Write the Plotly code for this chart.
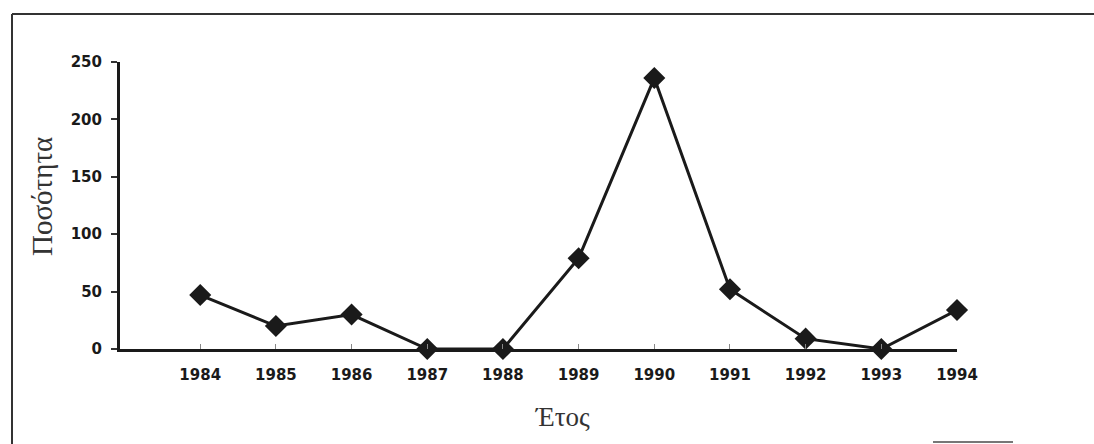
import plotly.graph_objects as go

years = [1984, 1985, 1986, 1987, 1988, 1989, 1990, 1991, 1992, 1993, 1994]
quantity = [47, 20, 30, 0, 0, 79, 236, 52, 9, 0, 34]
y_ticks = [0, 50, 100, 150, 200, 250]
x_title = "Έτος"
y_title = "Ποσότητα"

W, H = 1094, 444
L, R, T, B = 120, 137, 62, 95
pw, ph = W - L - R, H - T - B


def px(x):
    return (x - L) / pw


def py(y):
    return (H - B - y) / ph


fig = go.Figure()
fig.add_trace(go.Scatter(
    x=years, y=quantity, mode="lines+markers",
    line=dict(color="#1a1a1a", width=3),
    marker=dict(symbol="diamond", size=17, color="#1a1a1a"),
    cliponaxis=False, showlegend=False,
))

tickfont = dict(family="DejaVu Sans", size=15, color="#1a1a1a", weight="bold")

fig.update_layout(
    width=W, height=H,
    margin=dict(l=L, r=R, t=T, b=B),
    paper_bgcolor="white", plot_bgcolor="white",
    xaxis=dict(
        range=[1982.94, 1994.0], tickvals=years, ticktext=[str(y) for y in years],
        showgrid=False, zeroline=False,
        showline=True, linecolor="#1a1a1a", linewidth=3,
        ticks="inside", ticklen=5, tickwidth=1, tickcolor="#888888",
        tickfont=tickfont, ticklabelstandoff=10,
    ),
    yaxis=dict(
        range=[0, 250], tickvals=y_ticks,
        showgrid=False, zeroline=False,
        showline=True, linecolor="#1a1a1a", linewidth=3,
        ticks="outside", ticklen=6, tickwidth=2, tickcolor="#333333",
        tickfont=tickfont, ticklabelstandoff=6,
    ),
    annotations=[
        dict(text=y_title, xref="paper", yref="paper", x=px(42), y=py(197),
             showarrow=False, textangle=-90, xanchor="center", yanchor="middle",
             font=dict(family="Liberation Serif", size=29, color="#333333")),
        dict(text=x_title, xref="paper", yref="paper", x=px(562), y=py(417),
             showarrow=False, xanchor="center", yanchor="middle",
             font=dict(family="Liberation Serif", size=27, color="#333333")),
    ],
    shapes=[
        dict(type="line", xref="paper", yref="paper", x0=px(12), x1=px(1094),
             y0=py(14), y1=py(14), line=dict(color="#333333", width=2)),
        dict(type="line", xref="paper", yref="paper", x0=px(12), x1=px(12),
             y0=py(14), y1=py(444), line=dict(color="#333333", width=2)),
        dict(type="line", xref="paper", yref="paper", x0=px(933), x1=px(1013),
             y0=py(442), y1=py(442), line=dict(color="#777777", width=2)),
    ],
)

fig.write_html(
    "out.html",
    config={"displayModeBar": False},
    post_script="document.body.style.margin='0';document.body.style.overflow='hidden';",
)
